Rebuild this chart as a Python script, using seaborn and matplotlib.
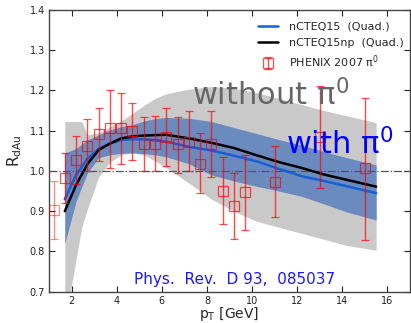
import matplotlib
matplotlib.use("Agg")
import matplotlib.pyplot as plt
import seaborn as sns
import numpy as np
import pandas as pd

# ---------------- data ----------------
pt_grid = [1.7, 2.2, 2.7, 3.2, 3.7, 4.2, 4.7, 5.2, 5.7, 6.2, 7.2, 8.2, 9.2,
           10.2, 11.2, 12.2, 13.2, 14.2, 15.5]
ncteq15 = [0.93, 0.99, 1.03, 1.055, 1.068, 1.077, 1.079, 1.079, 1.076, 1.073,
           1.06, 1.051, 1.038, 1.024, 1.005, 0.987, 0.975, 0.962, 0.945]
ncteq15np = [0.90, 0.965, 1.017, 1.052, 1.068, 1.081, 1.086, 1.088, 1.089, 1.090,
             1.081, 1.07, 1.057, 1.039, 1.022, 1.0075, 0.991, 0.978, 0.961]
with_hi = [1.044, 1.056, 1.077, 1.09, 1.102, 1.11, 1.115, 1.124, 1.13, 1.133,
           1.131, 1.123, 1.108, 1.093, 1.078, 1.064, 1.048, 1.033, 1.015]
with_lo = [0.82, 0.925, 0.995, 1.033, 1.04, 1.044, 1.045, 1.043, 1.04, 1.035,
           1.018, 0.99, 0.975, 0.962, 0.95, 0.937, 0.918, 0.898, 0.878]

pt_gray = [1.7, 2.45, 2.7, 3.2, 3.7, 4.2, 4.7, 5.2, 5.7, 6.2, 7.2, 8.2, 9.2,
           10.2, 11.2, 12.2, 13.2, 14.2, 15.5]
without_hi = [1.123, 1.123, 1.09, 1.095, 1.11, 1.125, 1.143, 1.163, 1.18, 1.192,
              1.203, 1.21, 1.205, 1.195, 1.18, 1.165, 1.15, 1.137, 1.12]
without_lo = [0.62, 0.86, 0.905, 0.985, 1.022, 1.04, 1.045, 1.04, 1.025, 1.008,
              0.97, 0.93, 0.90, 0.875, 0.86, 0.845, 0.83, 0.815, 0.803]

phenix_pt = [1.2, 1.7, 2.2, 2.7, 3.2, 3.7, 4.2, 4.7, 5.2, 5.7, 6.2, 6.7, 7.2,
             7.7, 8.2, 8.7, 9.2, 9.7, 11.0, 13.0, 15.0]
phenix_r = [0.903, 0.982, 1.028, 1.063, 1.091, 1.106, 1.106, 1.100, 1.066, 1.066,
            1.085, 1.066, 1.072, 1.017, 1.068, 0.949, 0.913, 0.947, 0.973, 1.085, 1.007]
phenix_top = [0.976, 1.044, 1.087, 1.129, 1.156, 1.201, 1.193, 1.168, 1.134, 1.137,
              1.156, 1.135, 1.148, 1.094, 1.148, 1.035, 0.996, 1.04, 1.063, 1.21, 1.182]
phenix_bot = [0.830, 0.92, 0.968, 1.0, 1.025, 1.007, 1.017, 1.027, 1.0, 1.0,
              1.012, 0.994, 1.0, 0.945, 0.986, 0.867, 0.83, 0.853, 0.886, 0.957, 0.828]

x_ticks = [2, 4, 6, 8, 10, 12, 14, 16]
y_ticks = [0.7, 0.8, 0.9, 1.0, 1.1, 1.2, 1.3, 1.4]

# ---------------- figure ----------------
sns.set_theme(style="white")
plt.rcParams['font.family'] = ['DejaVu Sans']
plt.rcParams['mathtext.fontset'] = 'dejavusans'

fig = plt.figure(figsize=(4.11, 3.23), dpi=100)
fig.patch.set_facecolor("white")
ax = fig.add_axes([49 / 411, (323 - 291.7) / 323, (410 - 49) / 411, (291.7 - 10) / 323])

ax.fill_between(pt_gray, without_lo, without_hi, color="#c9c9c9", lw=0, zorder=1)
ax.fill_between(pt_grid, with_lo, with_hi, color="#6b8bbf", lw=0, zorder=2)

ax.axhline(1.0, color="#555555", ls="-.", lw=0.9, zorder=3)

df = pd.DataFrame({"pT": pt_grid, "nCTEQ15": ncteq15, "nCTEQ15np": ncteq15np})
sns.lineplot(data=df, x="pT", y="nCTEQ15", ax=ax, color="#1560d8", lw=1.8,
             label="nCTEQ15  (Quad.)", zorder=4)
sns.lineplot(data=df, x="pT", y="nCTEQ15np", ax=ax, color="black", lw=1.8,
             label="nCTEQ15np  (Quad.)", zorder=5)

r = np.array(phenix_r)
yerr = [r - np.array(phenix_bot), np.array(phenix_top) - r]
ax.errorbar(phenix_pt[1:], r[1:], yerr=[yerr[0][1:], yerr[1][1:]], fmt="s",
            mfc="none", mec="#ff0000", ecolor="#ff0000", ms=7, mew=0.9,
            elinewidth=1.0, capsize=3, capthick=1.0, alpha=0.7, zorder=6,
            label="PHENIX 2007 π$^0$")
ax.errorbar(phenix_pt[:1], r[:1], yerr=[yerr[0][:1], yerr[1][:1]], fmt="s",
            mfc="none", mec="#ff0000", ecolor="#ff0000", ms=7, mew=0.9,
            elinewidth=1.0, capsize=3, capthick=1.0, alpha=0.45, zorder=6)

ax.set_xlim(1, 17)
ax.set_ylim(0.7, 1.4)
ax.set_xticks(x_ticks)
ax.set_yticks(y_ticks)
ax.set_yticklabels([f"{v:.1f}" for v in y_ticks])
ax.tick_params(direction="in", length=4, width=0.8, labelsize=7, colors="#222222",
               top=True, right=True, left=True, bottom=True, pad=3)
for s in ax.spines.values():
    s.set_color("#444444")
    s.set_linewidth(1.0)

ax.set_xlabel("p$_{\\mathrm{T}}$ [GeV]", fontsize=10, labelpad=0)
ax.xaxis.set_label_coords(0.5, -0.048)
ax.set_ylabel("R$_{\\mathrm{dAu}}$", fontsize=11, labelpad=4)

ax.text(7.35, 1.164, "without π$^0$", color="#666666", fontsize=22,
        ha="left", va="baseline", zorder=7)
ax.text(11.52, 1.04, "with π$^0$", color="#0000ff", fontsize=22,
        ha="left", va="baseline", zorder=7)
ax.text(4.77, 0.719, "Phys.  Rev.  D 93,  085037", color="#1a1aff", fontsize=11,
        ha="left", va="baseline", zorder=7)

leg = ax.legend(loc="upper left", bbox_to_anchor=(0.567, 0.975), frameon=False,
                fontsize=8, handlelength=1.8, handletextpad=1.0,
                borderpad=0.4, borderaxespad=0.0, labelspacing=0.55)

fig.savefig("out.png", dpi=100)
